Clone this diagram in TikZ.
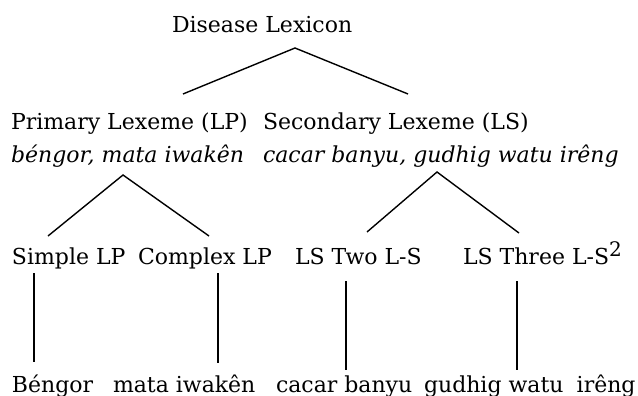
\documentclass[tikz,border=0pt]{standalone}
\usepackage{fontspec}
\setmainfont{DejaVu Serif}
\begin{document}
\begin{tikzpicture}[x=1pt,y=-1pt,
  lbl/.style={anchor=base west,inner sep=0pt,outer sep=0pt,font=\fontsize{22}{26}\selectfont},
  conn/.style={line width=1.4pt}]
\useasboundingbox[fill=white] (0,0) rectangle (638,396);
% labels
\node[lbl] (dl) at (172,33) {Disease Lexicon};
\node[lbl] (lp) at (11,130) {Primary Lexeme (LP)};
\node[lbl] (ls) at (263,130) {Secondary Lexeme (LS)};
\node[lbl] (lpx) at (11,162) {\itshape béngor, mata iwakên};
\node[lbl] (lsx) at (263,162) {\itshape cacar banyu, gudhig watu irêng};
\node[lbl] (slp) at (12,264) {Simple LP};
\node[lbl] (clp) at (138,264) {Complex LP};
\node[lbl] (ls2) at (295,264) {LS Two L-S};
\node[lbl] (ls3) at (463,264) {LS Three L-S\raisebox{8pt}{\fontsize{20}{24}\selectfont 2}};
\node[lbl] (e1) at (12,392) {Béngor};
\node[lbl] (e2) at (113,392) {mata iwakên};
\node[lbl] (e3) at (276,392) {cacar banyu};
\node[lbl] (e4) at (424,392) {gudhig watu\hspace{0.6em}irêng};
% connector points
\coordinate (dlA) at (295,48);
\coordinate (lpT) at (183,94);
\coordinate (lsT) at (408,94);
\coordinate (lpA) at (123,175);
\coordinate (slpT) at (48,236);
\coordinate (clpT) at (209,236);
\coordinate (lsA) at (437,172);
\coordinate (ls2T) at (367,232);
\coordinate (ls3T) at (519,233);
\coordinate (slpB) at (34,273);
\coordinate (e1T) at (34,362);
\coordinate (clpB) at (218,273);
\coordinate (e2T) at (218,363);
\coordinate (ls2B) at (346,281);
\coordinate (e3T) at (346,370);
\coordinate (ls3B) at (517,281);
\coordinate (e4T) at (517,370);
% connectors
\draw[conn] (lpT) -- (dlA) -- (lsT);
\draw[conn] (slpT) -- (lpA) -- (clpT);
\draw[conn] (ls2T) -- (lsA) -- (ls3T);
\draw[conn] (slpB) -- (e1T);
\draw[conn] (clpB) -- (e2T);
\draw[conn] (ls2B) -- (e3T);
\draw[conn] (ls3B) -- (e4T);
\end{tikzpicture}
\end{document}
